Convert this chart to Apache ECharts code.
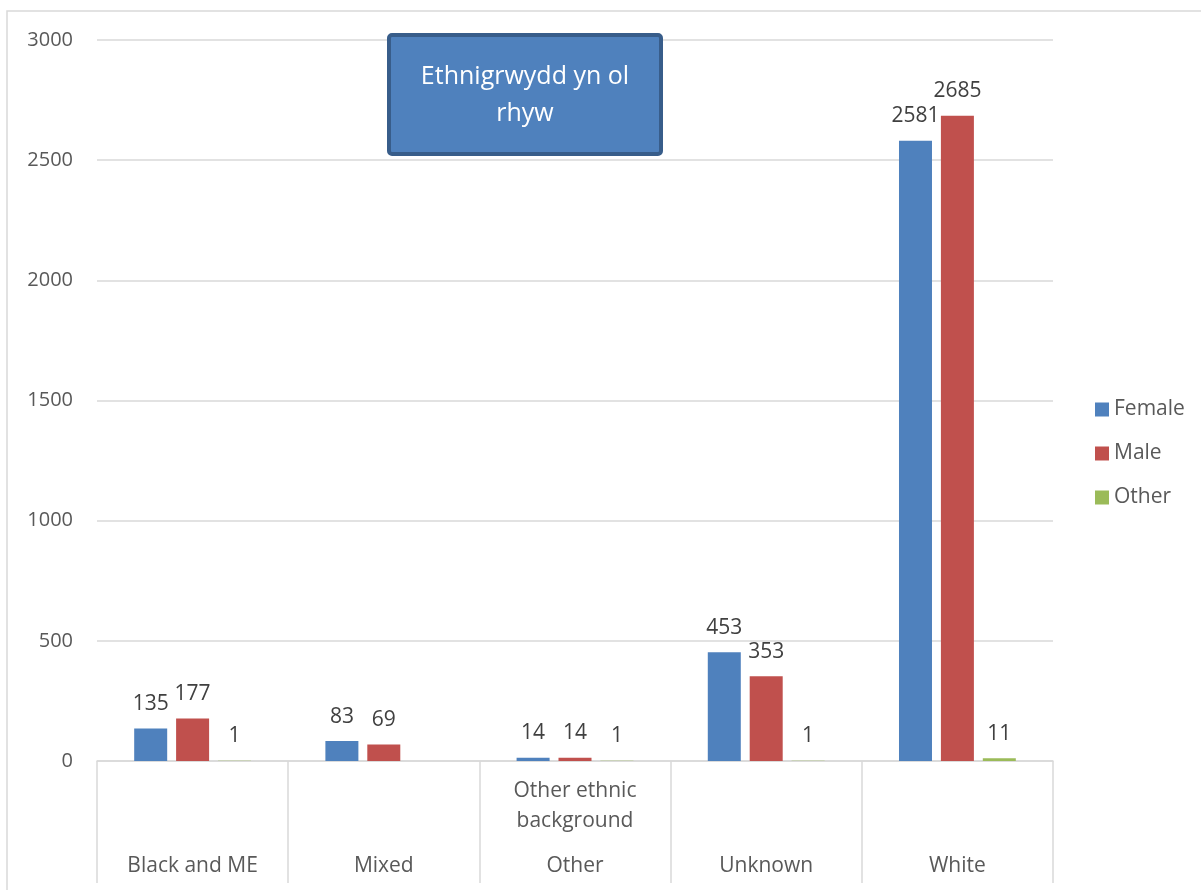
<!DOCTYPE html>
<html>
<head>
<meta charset="utf-8">
<title>Ethnigrwydd yn ol rhyw</title>
<script src="https://cdn.jsdelivr.net/npm/echarts@6/dist/echarts.min.js"></script>
<style>
  html, body { margin: 0; padding: 0; background: #fff; }
  #main { width: 1201px; height: 890px; }
</style>
</head>
<body>
<div id="main"></div>
<script>
var myChart = echarts.init(document.getElementById('main'));

// categories (lower level) and sub-level labels
var categories = ['Black and ME', 'Mixed', 'Other', 'Unknown', 'White'];
var subLabels = ['', '', 'Other ethnic\nbackground', '', ''];

// series values
var female = [135, 83, 14, 453, 2581];
var male = [177, 69, 14, 353, 2685];
var other = [1, null, 1, 1, 11];

var yTicks = { min: 0, max: 3000, interval: 500 };

var fontName = '"Open Sans", sans-serif';
var gridColor = '#d9d9d9';

function barSeries(name, data, color) {
    return {
        name: name,
        type: 'bar',
        data: data,
        barWidth: 33,
        barGap: '27%',
        itemStyle: { color: color },
        label: {
            show: true,
            position: 'top',
            distance: 14,
            fontSize: 21,
            fontFamily: fontName,
            color: '#404040'
        }
    };
}

var option = {
    animation: false,
    backgroundColor: '#fff',
    textStyle: { fontFamily: fontName },
    grid: {
        left: 97,
        right: 148,
        top: 40,
        bottom: 129
    },
    legend: {
        orient: 'vertical',
        left: 1090,
        top: 394,
        itemWidth: 14,
        itemHeight: 14,
        itemGap: 23,
        icon: 'rect',
        textStyle: { fontSize: 21, color: '#595959', fontFamily: fontName },
        data: ['Female', 'Male', 'Other']
    },
    xAxis: [{
        type: 'category',
        data: categories,
        position: 'bottom',
        axisLine: { lineStyle: { color: gridColor, width: 1.5 } },
        axisTick: {
            show: true,
            length: 122,
            interval: 0,
            lineStyle: { color: gridColor, width: 1.5 }
        },
        axisLabel: {
            interval: 0,
            margin: 15,
            fontSize: 21,
            lineHeight: 30,
            color: '#595959',
            fontFamily: fontName,
            formatter: function (v, i) { return subLabels[i]; }
        }
    }, {
        type: 'category',
        data: categories,
        position: 'bottom',
        axisLine: { show: false },
        axisTick: { show: false },
        axisLabel: {
            interval: 0,
            margin: 93,
            fontSize: 21,
            lineHeight: 24,
            color: '#595959',
            fontFamily: fontName
        }
    }],
    yAxis: {
        type: 'value',
        min: yTicks.min,
        max: yTicks.max,
        interval: yTicks.interval,
        axisLine: { show: false },
        axisTick: { show: false },
        axisLabel: {
            margin: 24,
            fontSize: 20,
            color: '#595959',
            fontFamily: fontName,
            formatter: function (v) { return String(v); }
        },
        splitLine: { lineStyle: { color: gridColor, width: 1.5 } }
    },
    series: [
        barSeries('Female', female, '#4f81bd'),
        barSeries('Male', male, '#c0504d'),
        barSeries('Other', other, '#9bbb59')
    ],
    graphic: [{
        type: 'rect',
        silent: true,
        shape: { x: 7, y: 11, width: 1300, height: 1000 },
        style: { fill: 'none', stroke: gridColor, lineWidth: 1.5 }
    }, {
        type: 'rect',
        silent: true,
        z: 100,
        shape: { x: 389, y: 35, width: 272, height: 119, r: 3 },
        style: { fill: '#4f81bd', stroke: '#385d8a', lineWidth: 4 }
    }, {
        type: 'text',
        silent: true,
        z: 101,
        x: 525,
        y: 95,
        style: {
            text: 'Ethnigrwydd yn ol\nrhyw',
            fill: '#ffffff',
            fontSize: 25,
            lineHeight: 37,
            fontFamily: fontName,
            align: 'center',
            verticalAlign: 'middle'
        }
    }]
};

myChart.setOption(option);
</script>
</body>
</html>
